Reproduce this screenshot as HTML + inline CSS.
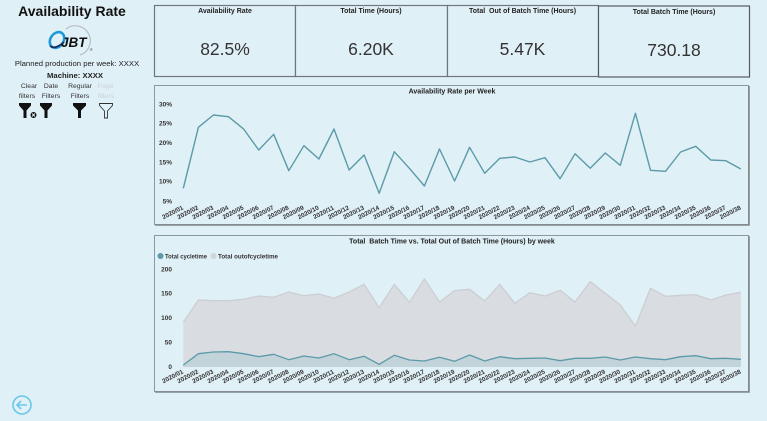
<!DOCTYPE html>
<html><head><meta charset="utf-8"><style>
html,body{margin:0;padding:0;background:#e0f0f7;}
svg{display:block;font-family:"Liberation Sans",Arial,sans-serif;}
</style></head><body>
<svg width="767" height="421" viewBox="0 0 767 421" xmlns="http://www.w3.org/2000/svg">
<rect x="0" y="0" width="767" height="421" fill="#e0f0f7"/>

<!-- Left panel -->
<text x="72" y="16" text-anchor="middle" font-size="14" font-weight="bold" fill="#111">Availability Rate</text>
<!-- JBT logo -->
<path d="M66 29 A15 15 0 1 1 80 55" fill="none" stroke="#b9bcbf" stroke-width="1.2"/>
<ellipse cx="57" cy="40" rx="6.5" ry="8.5" transform="rotate(35 57 40)" fill="none" stroke="#1c9ad8" stroke-width="2.6"/>
<path d="M50 46 Q55 50 64 42" fill="none" stroke="#1a2a5a" stroke-width="1.6"/>
<text x="61" y="47" font-size="13.5" font-weight="bold" font-style="italic" fill="#111">JBT</text>
<text x="90" y="51" font-size="3.5" fill="#333">®</text>
<text x="77" y="66" text-anchor="middle" font-size="7.7" fill="#222">Planned production per week: XXXX</text>
<text x="75" y="78" text-anchor="middle" font-size="7.7" font-weight="bold" fill="#222">Machine: XXXX</text>
<g font-size="6.8" fill="#333" text-anchor="middle">
<text x="29" y="88">Clear</text><text x="27" y="98">filters</text>
<text x="51" y="88">Date</text><text x="51" y="98">Filters</text>
<text x="80" y="88">Regular</text><text x="80" y="98">Filters</text>
<text x="105.5" y="88" fill="#c9d2d6">Page</text><text x="106" y="98" fill="#c9d2d6">filters</text>
</g>
<g fill="#111">
<path d="M19 103 H31 V105.5 L26.5 110.5 V118 H23.5 V110.5 L19 105.5 Z"/>
<circle cx="33.5" cy="115" r="3" fill="#111"/>
<path d="M32 113.5 L35 116.5 M35 113.5 L32 116.5" stroke="#e0f0f7" stroke-width="0.9"/>
<path d="M40 103 H52 V105.5 L47.5 110.5 V118 H44.5 V110.5 L40 105.5 Z"/>
<path d="M73 103 H86 V105.5 L81 110.5 V118 H78 V110.5 L73 105.5 Z"/>
</g>
<path d="M99.5 103.5 H112.5 V105.5 L107.5 111 V118 H104.5 V111 L99.5 105.5 Z" fill="none" stroke="#333" stroke-width="0.9"/>

<!-- Back icon -->
<circle cx="22" cy="405" r="9" fill="none" stroke="#6ac7e8" stroke-width="1.6"/>
<path d="M27 405 H17 M21 401 L17 405 L21 409" fill="none" stroke="#6ac7e8" stroke-width="1.6"/>

<!-- KPI cards -->
<g fill="#e0f0f7" stroke="#6f777c" stroke-width="1.2">
<rect x="154.5" y="5.5" width="141" height="71"/>
<rect x="295.5" y="5.5" width="152" height="71"/>
<rect x="447.5" y="5.5" width="151" height="71"/>
<rect x="598.5" y="6" width="151" height="71" stroke="#555b60"/>
</g>
<g font-size="7" font-weight="bold" fill="#222" text-anchor="middle">
<text x="225" y="13">Availability Rate</text>
<text x="371" y="13">Total Time (Hours)</text>
<text x="522.5" y="13" xml:space="preserve">Total  Out of Batch Time (Hours)</text>
<text x="674" y="14">Total Batch Time (Hours)</text>
</g>
<g font-size="17.5" fill="#333" text-anchor="middle">
<text x="225" y="55">82.5%</text>
<text x="371" y="55">6.20K</text>
<text x="522.5" y="55">5.47K</text>
<text x="674" y="56">730.18</text>
</g>

<!-- Chart 1 box -->
<rect x="154.5" y="85.5" width="594" height="139" fill="#e0f0f7" stroke="#8e979b" stroke-width="1"/>
<path d="M749 86 V225 H155" fill="none" stroke="#80898e" stroke-width="1.6"/>
<text x="452" y="93.5" text-anchor="middle" font-size="7" font-weight="bold" fill="#222">Availability Rate per Week</text>
<g font-size="6.5" font-weight="bold" fill="#333" text-anchor="end">
<text x="172" y="106.3">30%</text>
<text x="172" y="125.6">25%</text>
<text x="172" y="145">20%</text>
<text x="172" y="164.3">15%</text>
<text x="172" y="183.6">10%</text>
<text x="172" y="203.6">5%</text>
</g>
<polyline fill="none" stroke="#5b9aa8" stroke-width="1.4" stroke-linejoin="round" points="183.3,188.3 198.4,127.3 213.4,115 228.5,116.7 243.6,129 258.7,150 273.7,134.3 288.8,170.7 303.9,145.7 318.9,159 334,129 349.1,170 364.1,155 379.2,193.3 394.3,151.7 409.4,168.3 424.4,186 439.5,149 454.6,181 469.6,147.3 484.7,173.3 499.8,158.3 514.8,157 529.9,162 545,157.7 560.1,178.7 575.1,153.7 590.2,168.3 605.3,153 620.3,165.3 635.4,113.3 650.5,170.3 665.5,171.3 680.6,152 695.7,146.3 710.8,160 725.8,160.7 740.9,169"/>
<g font-size="6.3" font-weight="bold" fill="#333" text-anchor="end">
<text transform="translate(183.8,209) rotate(-27)">2020/01</text>
<text transform="translate(198.9,209) rotate(-27)">2020/02</text>
<text transform="translate(213.9,209) rotate(-27)">2020/03</text>
<text transform="translate(229,209) rotate(-27)">2020/04</text>
<text transform="translate(244.1,209) rotate(-27)">2020/05</text>
<text transform="translate(259.2,209) rotate(-27)">2020/06</text>
<text transform="translate(274.2,209) rotate(-27)">2020/07</text>
<text transform="translate(289.3,209) rotate(-27)">2020/08</text>
<text transform="translate(304.4,209) rotate(-27)">2020/09</text>
<text transform="translate(319.4,209) rotate(-27)">2020/10</text>
<text transform="translate(334.5,209) rotate(-27)">2020/11</text>
<text transform="translate(349.6,209) rotate(-27)">2020/12</text>
<text transform="translate(364.6,209) rotate(-27)">2020/13</text>
<text transform="translate(379.7,209) rotate(-27)">2020/14</text>
<text transform="translate(394.8,209) rotate(-27)">2020/15</text>
<text transform="translate(409.9,209) rotate(-27)">2020/16</text>
<text transform="translate(424.9,209) rotate(-27)">2020/17</text>
<text transform="translate(440,209) rotate(-27)">2020/18</text>
<text transform="translate(455.1,209) rotate(-27)">2020/19</text>
<text transform="translate(470.1,209) rotate(-27)">2020/20</text>
<text transform="translate(485.2,209) rotate(-27)">2020/21</text>
<text transform="translate(500.3,209) rotate(-27)">2020/22</text>
<text transform="translate(515.3,209) rotate(-27)">2020/23</text>
<text transform="translate(530.4,209) rotate(-27)">2020/24</text>
<text transform="translate(545.5,209) rotate(-27)">2020/25</text>
<text transform="translate(560.6,209) rotate(-27)">2020/26</text>
<text transform="translate(575.6,209) rotate(-27)">2020/27</text>
<text transform="translate(590.7,209) rotate(-27)">2020/28</text>
<text transform="translate(605.8,209) rotate(-27)">2020/29</text>
<text transform="translate(620.8,209) rotate(-27)">2020/30</text>
<text transform="translate(635.9,209) rotate(-27)">2020/31</text>
<text transform="translate(651,209) rotate(-27)">2020/32</text>
<text transform="translate(666,209) rotate(-27)">2020/33</text>
<text transform="translate(681.1,209) rotate(-27)">2020/34</text>
<text transform="translate(696.2,209) rotate(-27)">2020/35</text>
<text transform="translate(711.3,209) rotate(-27)">2020/36</text>
<text transform="translate(726.3,209) rotate(-27)">2020/37</text>
<text transform="translate(741.4,209) rotate(-27)">2020/38</text>
</g>

<!-- Chart 2 box -->
<rect x="154.5" y="235.5" width="594" height="156" fill="#e0f0f7" stroke="#8e979b" stroke-width="1"/>
<path d="M749 236 V392 H155" fill="none" stroke="#80898e" stroke-width="1.6"/>
<text x="452" y="243.5" text-anchor="middle" font-size="7" font-weight="bold" fill="#222" xml:space="preserve">Total  Batch Time vs. Total Out of Batch Time (Hours) by week</text>
<circle cx="160.5" cy="256" r="3" fill="#5b9aa8"/>
<text x="165" y="258.3" font-size="6.3" font-weight="bold" fill="#333" textLength="42" lengthAdjust="spacingAndGlyphs">Total cycletime</text>
<circle cx="213.5" cy="256" r="3" fill="#d2d6da"/>
<text x="218" y="258.3" font-size="6.3" font-weight="bold" fill="#333" textLength="60" lengthAdjust="spacingAndGlyphs">Total outofcycletime</text>
<g font-size="6.5" font-weight="bold" fill="#333" text-anchor="end">
<text x="172" y="271.3">200</text>
<text x="172" y="295.6">150</text>
<text x="172" y="320">100</text>
<text x="172" y="344.6">50</text>
<text x="172" y="369">0</text>
</g>
<polygon fill="#d9dde2" points="183.3,367 183.3,322.3 198.4,300 213.4,300.7 228.5,300.7 243.6,299.3 258.7,296 273.7,297.3 288.8,292 303.9,295.7 318.9,294 334,298.3 349.1,292 364.1,284.3 379.2,307.7 394.3,284.3 409.4,302.3 424.4,279 439.5,302 454.6,290.7 469.6,289.3 484.7,301 499.8,284.3 514.8,303.3 529.9,292.7 545,296 560.1,290.3 575.1,302 590.2,281.7 605.3,293.3 620.3,305 635.4,326.3 650.5,288.3 665.5,296.3 680.6,295.3 695.7,294.7 710.8,300 725.8,295 740.9,292.3 740.9,367"/>
<polyline fill="none" stroke="#cbcfd3" stroke-width="1.3" stroke-linejoin="round" points="183.3,322.3 198.4,300 213.4,300.7 228.5,300.7 243.6,299.3 258.7,296 273.7,297.3 288.8,292 303.9,295.7 318.9,294 334,298.3 349.1,292 364.1,284.3 379.2,307.7 394.3,284.3 409.4,302.3 424.4,279 439.5,302 454.6,290.7 469.6,289.3 484.7,301 499.8,284.3 514.8,303.3 529.9,292.7 545,296 560.1,290.3 575.1,302 590.2,281.7 605.3,293.3 620.3,305 635.4,326.3 650.5,288.3 665.5,296.3 680.6,295.3 695.7,294.7 710.8,300 725.8,295 740.9,292.3"/>
<polygon fill="#c3d3da" points="183.3,367 183.3,365 198.4,353.7 213.4,352 228.5,351.7 243.6,353.7 258.7,356.7 273.7,354.3 288.8,359.7 303.9,356 318.9,358 334,353.7 349.1,359.7 364.1,356.3 379.2,364.3 394.3,355.3 409.4,360 424.4,361 439.5,357.3 454.6,361.3 469.6,355 484.7,361 499.8,356.7 514.8,358.7 529.9,358.3 545,358 560.1,360.7 575.1,358.3 590.2,358.3 605.3,357 620.3,360 635.4,357 650.5,358.7 665.5,359.7 680.6,356.7 695.7,355.7 710.8,358.7 725.8,358.3 740.9,359.3 740.9,367"/>
<polyline fill="none" stroke="#5b9aa8" stroke-width="1.3" stroke-linejoin="round" points="183.3,365 198.4,353.7 213.4,352 228.5,351.7 243.6,353.7 258.7,356.7 273.7,354.3 288.8,359.7 303.9,356 318.9,358 334,353.7 349.1,359.7 364.1,356.3 379.2,364.3 394.3,355.3 409.4,360 424.4,361 439.5,357.3 454.6,361.3 469.6,355 484.7,361 499.8,356.7 514.8,358.7 529.9,358.3 545,358 560.1,360.7 575.1,358.3 590.2,358.3 605.3,357 620.3,360 635.4,357 650.5,358.7 665.5,359.7 680.6,356.7 695.7,355.7 710.8,358.7 725.8,358.3 740.9,359.3"/>
<g font-size="6.3" font-weight="bold" fill="#333" text-anchor="end">
<text transform="translate(183.8,373) rotate(-27)">2020/01</text>
<text transform="translate(198.9,373) rotate(-27)">2020/02</text>
<text transform="translate(213.9,373) rotate(-27)">2020/03</text>
<text transform="translate(229,373) rotate(-27)">2020/04</text>
<text transform="translate(244.1,373) rotate(-27)">2020/05</text>
<text transform="translate(259.2,373) rotate(-27)">2020/06</text>
<text transform="translate(274.2,373) rotate(-27)">2020/07</text>
<text transform="translate(289.3,373) rotate(-27)">2020/08</text>
<text transform="translate(304.4,373) rotate(-27)">2020/09</text>
<text transform="translate(319.4,373) rotate(-27)">2020/10</text>
<text transform="translate(334.5,373) rotate(-27)">2020/11</text>
<text transform="translate(349.6,373) rotate(-27)">2020/12</text>
<text transform="translate(364.6,373) rotate(-27)">2020/13</text>
<text transform="translate(379.7,373) rotate(-27)">2020/14</text>
<text transform="translate(394.8,373) rotate(-27)">2020/15</text>
<text transform="translate(409.9,373) rotate(-27)">2020/16</text>
<text transform="translate(424.9,373) rotate(-27)">2020/17</text>
<text transform="translate(440,373) rotate(-27)">2020/18</text>
<text transform="translate(455.1,373) rotate(-27)">2020/19</text>
<text transform="translate(470.1,373) rotate(-27)">2020/20</text>
<text transform="translate(485.2,373) rotate(-27)">2020/21</text>
<text transform="translate(500.3,373) rotate(-27)">2020/22</text>
<text transform="translate(515.3,373) rotate(-27)">2020/23</text>
<text transform="translate(530.4,373) rotate(-27)">2020/24</text>
<text transform="translate(545.5,373) rotate(-27)">2020/25</text>
<text transform="translate(560.6,373) rotate(-27)">2020/26</text>
<text transform="translate(575.6,373) rotate(-27)">2020/27</text>
<text transform="translate(590.7,373) rotate(-27)">2020/28</text>
<text transform="translate(605.8,373) rotate(-27)">2020/29</text>
<text transform="translate(620.8,373) rotate(-27)">2020/30</text>
<text transform="translate(635.9,373) rotate(-27)">2020/31</text>
<text transform="translate(651,373) rotate(-27)">2020/32</text>
<text transform="translate(666,373) rotate(-27)">2020/33</text>
<text transform="translate(681.1,373) rotate(-27)">2020/34</text>
<text transform="translate(696.2,373) rotate(-27)">2020/35</text>
<text transform="translate(711.3,373) rotate(-27)">2020/36</text>
<text transform="translate(726.3,373) rotate(-27)">2020/37</text>
<text transform="translate(741.4,373) rotate(-27)">2020/38</text>
</g>
</svg>
</body></html>
